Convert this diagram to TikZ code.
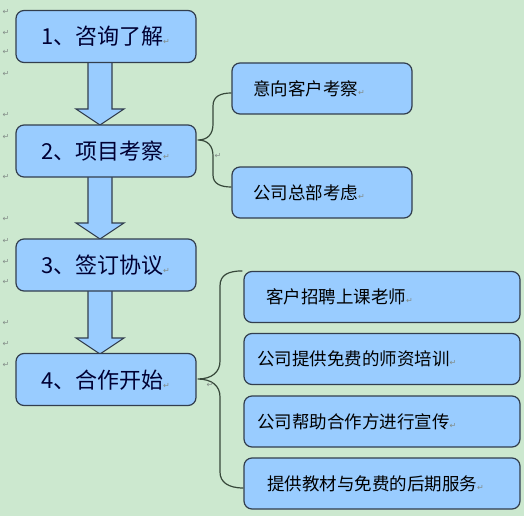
\documentclass[tikz,border=0pt]{standalone}
\usepackage{fontspec}
\setmainfont{Noto Sans CJK SC}
\newfontfamily\retfont{DejaVu Sans}
\usetikzlibrary{calc}
\definecolor{bg}{RGB}{204,232,207}
\definecolor{boxfill}{RGB}{153,204,255}
\definecolor{boxline}{RGB}{50,62,78}
\definecolor{bracecol}{RGB}{55,72,58}
\definecolor{markgray}{RGB}{130,140,135}
\newcommand{\retmark}{{\retfont\fontsize{8}{8}\selectfont\color{markgray}↵}}
\begin{document}
\begin{tikzpicture}[x=1pt,y=-1pt,
  mainbox/.style={draw=boxline, line width=1.2pt, fill=boxfill, rounded corners=8pt,
    minimum width=180pt, minimum height=52pt, text width=130pt, inner xsep=25pt,
    text height=19pt, text depth=2pt,
    align=left, font=\fontsize{22}{24}\selectfont, text=black!80!blue},
  subbox/.style={draw=boxline, line width=1.2pt, fill=boxfill, rounded corners=8pt,
    minimum height=51pt, align=left, font=\fontsize{17.5}{20}\selectfont, text=black},
  blockarrow/.style={draw=boxline, line width=1.1pt, fill=boxfill, line join=miter},
  brace/.style={draw=bracecol, line width=1.2pt},
  retnode/.style={inner sep=0pt, font=\retfont\fontsize{8}{8}\selectfont, text=markgray}]
\useasboundingbox[fill=bg] (0,0) rectangle (524,516);

% arrow anchor coordinates
\coordinate (a1s) at (100,62);
\coordinate (a1t) at (100,125);
\coordinate (a2s) at (100,176);
\coordinate (a2t) at (100,239);
\coordinate (a3s) at (100,290);
\coordinate (a3t) at (100,354);

% block arrows (drawn under the boxes)
\foreach \s/\t in {a1s/a1t, a2s/a2t, a3s/a3t}{
  \draw[blockarrow] ($(\s)+(-12,0)$) -- ($(\t)+(-12,-16)$) -- ($(\t)+(-24,-16)$) -- (\t)
     -- ($(\t)+(24,-16)$) -- ($(\t)+(12,-16)$) -- ($(\s)+(12,0)$) -- cycle;
}

% main boxes
\node[mainbox] (b1) at (106,36.5) {1、咨询了解\retmark};
\node[mainbox] (b2) at (106,151) {2、项目考察\retmark};
\node[mainbox] (b3) at (106,265) {3、签订协议\retmark};
\node[mainbox] (b4) at (106,379.5) {4、合作开始\retmark};

% sub boxes
\node[subbox, minimum width=180pt, text width=138pt, inner xsep=21pt] (sa) at (322,88.5) {意向客户考察\retmark};
\node[subbox, minimum width=180pt, text width=138pt, inner xsep=21pt] (sb) at (322,192.5) {公司总部考虑\retmark};
\node[subbox, minimum width=276pt, text width=232pt, inner xsep=22pt] (sc) at (382,297) {客户招聘上课老师\retmark};
\node[subbox, minimum width=276pt, text width=250pt, inner xsep=13pt] (sd) at (382,359) {公司提供免费的师资培训\retmark};
\node[subbox, minimum width=276pt, text width=250pt, inner xsep=13pt] (se) at (382,421.5) {公司帮助合作方进行宣传\retmark};
\node[subbox, minimum width=276pt, text width=230pt, inner xsep=23pt] (sf) at (382,483.5) {提供教材与免费的后期服务\retmark};

% braces
\coordinate (t2) at ($(b2.east)+(1,-11)$);
\coordinate (ea) at ($(sa.west)+(0,4.5)$);
\coordinate (eb) at ($(sb.west)+(0,-5.5)$);
\draw[brace] (ea) .. controls (221,93) and (213,96) .. (213,106) -- (213,124)
   .. controls (213,134) and (208,140) .. (t2)
   .. controls (208,140) and (213,146) .. (213,156) -- (213,175)
   .. controls (213,184) and (221,187) .. (eb);

\coordinate (t4) at ($(b4.east)+(1,-0.5)$);
\coordinate (ec) at ($(sc.north west)+(0,0)$);
\coordinate (ef) at ($(sf.west)+(0,4.5)$);
\draw[brace] ($(ec)+(-1,0)$) .. controls (228,271) and (220,275) .. (220,286) -- (220,361)
   .. controls (220,372) and (212,379) .. (t4)
   .. controls (212,379) and (220,386) .. (220,397) -- (220,472)
   .. controls (220,482) and (228,488) .. (ef);

% paragraph marks
\foreach \yy [count=\i] in {12,33,52,74,115,137,177,219,241,262,282,323,344,365}{
  \node[retnode] (m\i) at (6,\yy) {↵};
}
\node[retnode] (mb1) at (218,156) {↵};
\node[retnode] (mb2) at (210,385) {↵};
\end{tikzpicture}
\end{document}
